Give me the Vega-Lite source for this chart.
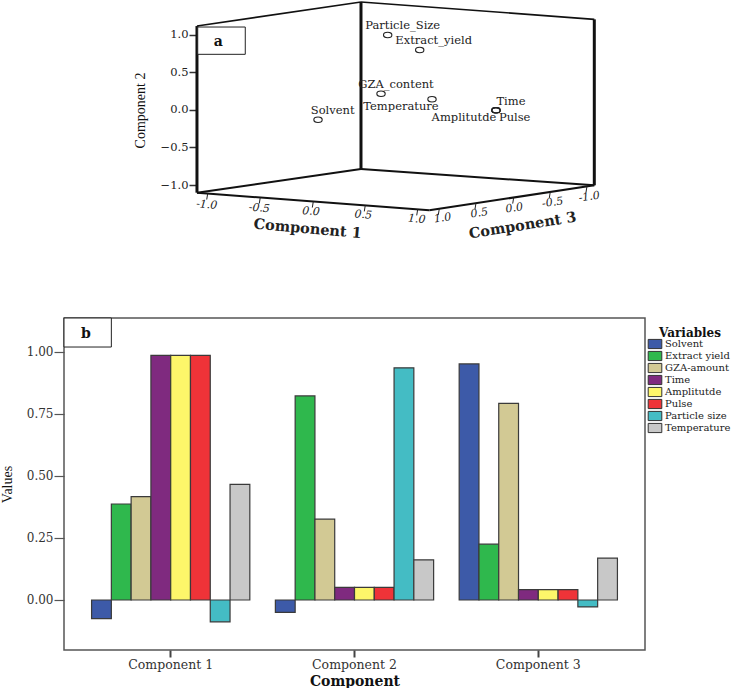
{
"$schema":"https://vega.github.io/schema/vega-lite/v6.json",
"background":"white",
"padding":{"left":-1,"top":0,"right":0,"bottom":0},
"spacing":70,
"config":{"font":"DejaVu Serif","view":{"continuousWidth":581}},
"vconcat":[
{"width":581,"height":245,"view":{"stroke":null},
 "layer":[
  {"data":{"values":[{"h":-2.187,"v":1.114,"h2":0,"v2":1.434},{"h":0,"v":1.434,"h2":3.111,"v2":1.203}]},
   "mark":{"type":"rule","color":"#111","strokeWidth":1.6},
   "encoding":{"x":{"field":"h","type":"quantitative","scale":{"domain":[-3.96,3.787],"nice":false},"axis":null},"x2":{"field":"h2"},
    "y":{"field":"v","type":"quantitative","scale":{"domain":[-1.811,1.447],"nice":false},
      "axis":{"values":[-1,-0.5,0,0.5,1],"format":".1f","offset":-133,"domain":false,"grid":false,"tickSize":8,"tickColor":"#333","tickWidth":1.5,"labelFontSize":11.5,"labelColor":"#222","labelPadding":1,"title":"Component 2","titleFont":"Liberation Serif","titleFontSize":14,"titleFontWeight":"normal","titleColor":"#111","titleX":-50,"titleY":109}},
    "y2":{"field":"v2"}}},
  {"data":{"values":[{"h":-2.187,"v":-1.102,"h2":0,"v2":-0.787},{"h":0,"v":-0.787,"h2":3.111,"v2":-1.004},{"h":-2.187,"v":-1.102,"h2":0.911,"v2":-1.336},{"h":0.911,"v":-1.336,"h2":3.111,"v2":-1.004}]},
   "mark":{"type":"rule","color":"#111","strokeWidth":2},
   "encoding":{"x":{"field":"h","type":"quantitative","axis":null},"x2":{"field":"h2"},"y":{"field":"v","type":"quantitative"},"y2":{"field":"v2"}}},
  {"data":{"values":[{"h":-2.187,"v":1.114,"h2":-2.187,"v2":-1.102},{"h":0,"v":1.434,"h2":0,"v2":-0.787},{"h":3.111,"v":1.203,"h2":3.111,"v2":-1.004}]},
   "mark":{"type":"rule","color":"#111","strokeWidth":3},
   "encoding":{"x":{"field":"h","type":"quantitative","axis":null},"x2":{"field":"h2"},"y":{"field":"v","type":"quantitative"},"y2":{"field":"v2"}}},
  {"data":{"values":[
    {"h":-2.044,"v":-1.113,"h2":-2.057,"v2":-1.193},{"h":-1.343,"v":-1.166,"h2":-1.356,"v2":-1.246},{"h":-0.636,"v":-1.220,"h2":-0.649,"v2":-1.300},{"h":0.057,"v":-1.271,"h2":0.044,"v2":-1.351},{"h":0.756,"v":-1.324,"h2":0.743,"v2":-1.404},
    {"h":1.044,"v":-1.317,"h2":1.031,"v2":-1.397},{"h":1.533,"v":-1.242,"h2":1.520,"v2":-1.322},{"h":2.036,"v":-1.167,"h2":2.023,"v2":-1.247},{"h":2.524,"v":-1.092,"h2":2.511,"v2":-1.172},{"h":3.013,"v":-1.019,"h2":3.000,"v2":-1.099}]},
   "mark":{"type":"rule","color":"#222","strokeWidth":1},
   "encoding":{"x":{"field":"h","type":"quantitative","axis":null},"x2":{"field":"h2"},"y":{"field":"v","type":"quantitative"},"y2":{"field":"v2"}}},
  {"data":{"values":[{"h":-2.057,"v":-1.266,"t":"-1.0"},{"h":-1.356,"v":-1.310,"t":"-0.5"},{"h":-0.667,"v":-1.355,"t":"0.0"},{"h":0.031,"v":-1.399,"t":"0.5"},{"h":0.743,"v":-1.456,"t":"1.0"}]},
   "mark":{"type":"text","fontSize":11,"fontStyle":"italic","angle":5,"color":"#222"},
   "encoding":{"x":{"field":"h","type":"quantitative","axis":null},"y":{"field":"v","type":"quantitative"},"text":{"field":"t"}}},
  {"data":{"values":[{"h":1.089,"v":-1.443,"t":"1.0"},{"h":1.577,"v":-1.376,"t":"0.5"},{"h":2.044,"v":-1.310,"t":"0.0"},{"h":2.556,"v":-1.235,"t":"-0.5"},{"h":3.044,"v":-1.160,"t":"-1.0"}]},
   "mark":{"type":"text","fontSize":11,"fontStyle":"italic","angle":-8,"color":"#222"},
   "encoding":{"x":{"field":"h","type":"quantitative","axis":null},"y":{"field":"v","type":"quantitative"},"text":{"field":"t"}}},
  {"data":{"values":[{"h":-0.711,"v":-1.589,"t":"Component 1"}]},
   "mark":{"type":"text","fontSize":14.5,"fontWeight":"bold","angle":5,"color":"#222"},
   "encoding":{"x":{"field":"h","type":"quantitative","axis":null},"y":{"field":"v","type":"quantitative"},"text":{"field":"t"}}},
  {"data":{"values":[{"h":2.156,"v":-1.545,"t":"Component 3"}]},
   "mark":{"type":"text","fontSize":14.5,"fontWeight":"bold","angle":-9,"color":"#222"},
   "encoding":{"x":{"field":"h","type":"quantitative","axis":null},"y":{"field":"v","type":"quantitative"},"text":{"field":"t"}}},
  {"data":{"values":[{"name":"Particle_Size","h":0.356,"v":0.995},{"name":"Extract_yield","h":0.783,"v":0.795},{"name":"GZA_content","h":0.267,"v":0.214},{"name":"Temperature","h":0.947,"v":0.140},{"name":"Time","h":1.8,"v":-0.007},{"name":"Amplitutde","h":1.8,"v":-0.007},{"name":"Pulse","h":1.8,"v":-0.007},{"name":"Solvent","h":-0.573,"v":-0.132}]},
   "mark":{"type":"point","shape":"M-1,0 A1,0.65 0 1 1 1,0 A1,0.65 0 1 1 -1,0 Z","size":70,"filled":false,"color":"#222","strokeWidth":1.1,"opacity":1},
   "encoding":{"x":{"field":"h","type":"quantitative","axis":null},"y":{"field":"v","type":"quantitative"}}},
  {"data":{"values":[{"name":"Particle_Size","h":0.556,"v":1.110},{"name":"Extract_yield","h":0.969,"v":0.915},{"name":"GZA_content","h":0.467,"v":0.334},{"name":"Temperature","h":0.533,"v":0.041},{"name":"Time","h":2.0,"v":0.104},{"name":"Amplitutde","h":1.373,"v":-0.109},{"name":"Pulse","h":2.049,"v":-0.109},{"name":"Solvent","h":-0.377,"v":-0.020}]},
   "mark":{"type":"text","fontSize":11.5,"color":"#222"},
   "encoding":{"x":{"field":"h","type":"quantitative","axis":null},"y":{"field":"v","type":"quantitative"},"text":{"field":"name"}}},
  {"data":{"values":[{"h":-2.177,"h2":-1.543,"v":1.101,"v2":0.738}]},
   "mark":{"type":"rect","fill":"white","stroke":"#222","strokeWidth":1},
   "encoding":{"x":{"field":"h","type":"quantitative","axis":null},"x2":{"field":"h2"},"y":{"field":"v","type":"quantitative"},"y2":{"field":"v2"}}},
  {"data":{"values":[{"h":-1.903,"v":0.906,"t":"a"}]},
   "mark":{"type":"text","fontSize":14,"fontWeight":"bold","color":"#111"},
   "encoding":{"x":{"field":"h","type":"quantitative","axis":null},"y":{"field":"v","type":"quantitative"},"text":{"field":"t"}}}
 ]},
{"width":581,"height":332,"view":{"stroke":"#555","strokeWidth":1.5},
 "resolve":{"scale":{"x":"independent"}},
 "layer":[
  {"data":{"values":[
   {"component":"Component 1","variable":"Solvent","value":-0.075},{"component":"Component 1","variable":"Extract yield","value":0.387},{"component":"Component 1","variable":"GZA-amount","value":0.417},{"component":"Component 1","variable":"Time","value":0.986},{"component":"Component 1","variable":"Amplitutde","value":0.986},{"component":"Component 1","variable":"Pulse","value":0.986},{"component":"Component 1","variable":"Particle size","value":-0.088},{"component":"Component 1","variable":"Temperature","value":0.466},
   {"component":"Component 2","variable":"Solvent","value":-0.05},{"component":"Component 2","variable":"Extract yield","value":0.823},{"component":"Component 2","variable":"GZA-amount","value":0.326},{"component":"Component 2","variable":"Time","value":0.051},{"component":"Component 2","variable":"Amplitutde","value":0.051},{"component":"Component 2","variable":"Pulse","value":0.051},{"component":"Component 2","variable":"Particle size","value":0.936},{"component":"Component 2","variable":"Temperature","value":0.162},
   {"component":"Component 3","variable":"Solvent","value":0.952},{"component":"Component 3","variable":"Extract yield","value":0.225},{"component":"Component 3","variable":"GZA-amount","value":0.793},{"component":"Component 3","variable":"Time","value":0.042},{"component":"Component 3","variable":"Amplitutde","value":0.042},{"component":"Component 3","variable":"Pulse","value":0.042},{"component":"Component 3","variable":"Particle size","value":-0.028},{"component":"Component 3","variable":"Temperature","value":0.169}]},
   "mark":{"type":"bar","stroke":"#3a3a3a","strokeWidth":1.2},
   "encoding":{
    "x":{"field":"component","type":"nominal","scale":{"paddingInner":0.139,"paddingOuter":0.15},
      "axis":{"title":"Component","titleFontSize":14,"titleFontWeight":"bold","titleColor":"#111","titlePadding":4,"labelAngle":0,"labelFontSize":12.5,"labelColor":"#333","tickSize":7,"tickWidth":2,"tickColor":"#444","domain":false,"labelPadding":1}},
    "xOffset":{"field":"variable","type":"nominal","sort":["Solvent","Extract yield","GZA-amount","Time","Amplitutde","Pulse","Particle size","Temperature"]},
    "y":{"field":"value","type":"quantitative","scale":{"domain":[-0.2016,1.137],"nice":false},
      "axis":{"values":[0,0.25,0.5,0.75,1],"format":".2f","grid":false,"domain":false,"tickSize":10,"tickColor":"#555","tickWidth":1.2,"labelFontSize":12,"labelColor":"#333","labelPadding":1,"title":"Values","titleFont":"Liberation Serif","titleFontSize":14,"titleFontWeight":"normal","titleColor":"#111","titlePadding":12}},
    "color":{"field":"variable","type":"nominal",
      "scale":{"domain":["Solvent","Extract yield","GZA-amount","Time","Amplitutde","Pulse","Particle size","Temperature"],"range":["#3d5aa8","#2fb84d","#d2c994","#7f2a7f","#fdf66a","#ef3338","#44bcc4","#c8c8c8"]},
      "legend":{"orient":"none","legendX":586,"legendY":327,"title":"Variables","titleFontSize":12,"titleFontWeight":"bold","titleColor":"#111","titleAnchor":"middle","titlePadding":-1,"labelFontSize":10,"labelColor":"#222","symbolType":"M-2.27,-1.53 H2.27 V1.53 H-2.27 Z","symbolSize":36,"symbolStrokeColor":"#333","symbolStrokeWidth":1,"rowPadding":-6,"labelOffset":5}}}},
  {"data":{"values":[{"fx":0.0,"fx2":0.0815,"v":1.137,"v2":1.02}]},
   "mark":{"type":"rect","fill":"white","stroke":"#222","strokeWidth":1},
   "encoding":{"x":{"field":"fx","type":"quantitative","scale":{"domain":[0,1],"nice":false},"axis":null},"x2":{"field":"fx2"},"y":{"field":"v","type":"quantitative"},"y2":{"field":"v2"}}},
  {"data":{"values":[{"fx":0.0375,"v":1.073,"t":"b"}]},
   "mark":{"type":"text","fontSize":14,"fontWeight":"bold","color":"#111"},
   "encoding":{"x":{"field":"fx","type":"quantitative","scale":{"domain":[0,1],"nice":false},"axis":null},"y":{"field":"v","type":"quantitative"},"text":{"field":"t"}}}
 ]}
]}
